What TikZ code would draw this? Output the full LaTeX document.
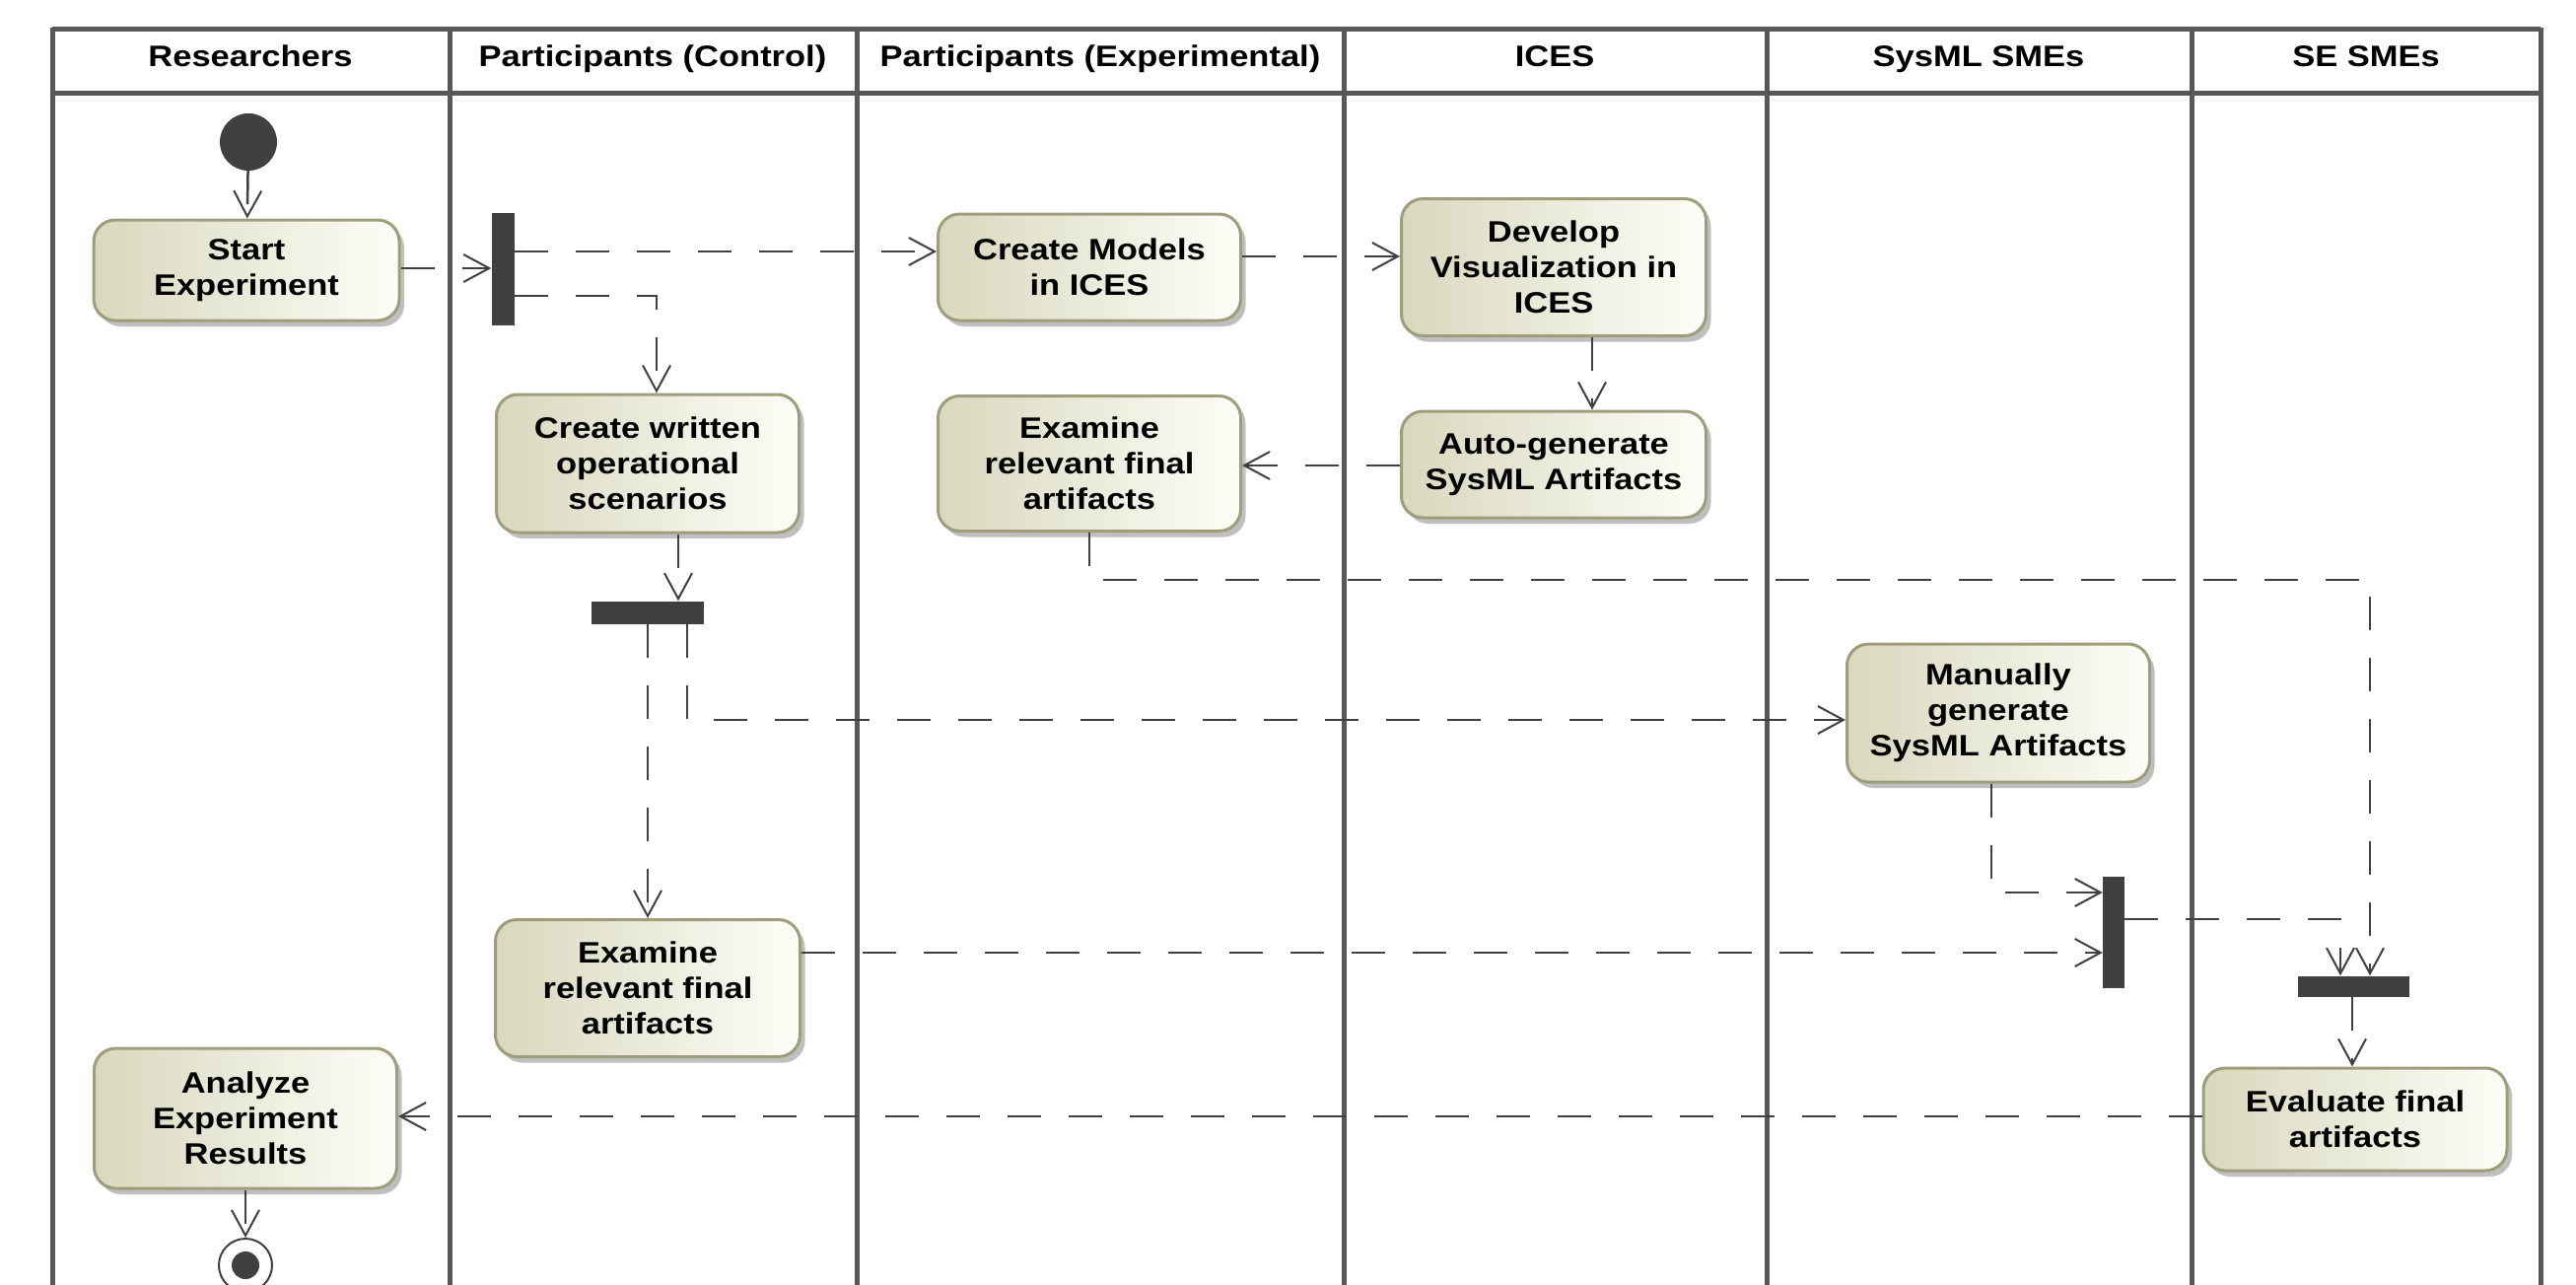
\documentclass[tikz,border=0pt]{standalone}
\usepackage{fontspec}
\setmainfont{Liberation Sans}[FakeStretch=1.15]
\usetikzlibrary{arrows.meta,shadows}
\definecolor{boxL}{RGB}{216,216,190}
\definecolor{boxR}{RGB}{253,253,248}
\definecolor{boxB}{RGB}{158,158,122}
\definecolor{ink}{RGB}{64,64,64}
\definecolor{lanec}{RGB}{88,88,88}
\begin{document}
\begin{tikzpicture}[x=1pt,y=-1pt,
  action/.style={rectangle, rounded corners=22pt, draw=boxB, line width=3pt,
    left color=boxL, right color=boxR, align=center, inner sep=0pt,
    font=\fontsize{30}{36}\selectfont\bfseries,
    drop shadow={shadow xshift=5pt, shadow yshift=-6pt, fill=black!45, opacity=0.55}},
  bar/.style={rectangle, fill=ink, draw=none, inner sep=0pt},
  flow/.style={draw=ink, line width=2.5pt, dash pattern=on 34pt off 28pt,
    -{Straight Barb[length=26pt,width=28pt,line width=2pt]}},
  lanetitle/.style={font=\fontsize{30}{36}\selectfont\bfseries, anchor=base},
  laneline/.style={draw=lanec, line width=5pt},
]
\useasboundingbox (0,0) rectangle (2613,1303);
\clip (0,0) rectangle (2613,1303);
\fill[white] (0,0) rectangle (2613,1303);

% swimlanes
\draw[laneline] (53,30) -- (2577,30);
\draw[laneline] (53,95) -- (2577,95);
\foreach \x in {53,456,869,1363,1792,2223,2577}
  \draw[laneline] (\x,28) -- (\x,1320);

\node[lanetitle] (h1) at (254,68) {Researchers};
\node[lanetitle] (h2) at (662,68) {Participants (Control)};
\node[lanetitle] (h3) at (1116,68) {Participants (Experimental)};
\node[lanetitle] (h4) at (1577,68) {ICES};
\node[lanetitle] (h5) at (2007,68) {SysML SMEs};
\node[lanetitle] (h6) at (2400,68) {SE SMEs};

% initial and final nodes
\node[circle, fill=ink, minimum size=58pt, inner sep=0pt] (init) at (252,144) {};
\node[circle, draw=ink, line width=2pt, fill=white, minimum size=54pt, inner sep=0pt] (fin) at (249,1283) {};
\node[circle, fill=ink, minimum size=28pt, inner sep=0pt] (findot) at (fin.center) {};

% actions
\node[action, minimum width=310pt, minimum height=102pt] (start) at (250,274) {Start\\Experiment};
\node[action, minimum width=307pt, minimum height=140pt] (cw) at (657,470) {Create written\\operational\\scenarios};
\node[action, minimum width=309pt, minimum height=139pt] (exC) at (657,1002) {Examine\\relevant final\\artifacts};
\node[action, minimum width=307pt, minimum height=142pt] (an) at (249,1134) {Analyze\\Experiment\\Results};
\node[action, minimum width=307pt, minimum height=108pt] (cm) at (1105,271) {Create Models\\in ICES};
\node[action, minimum width=307pt, minimum height=137pt] (exE) at (1105,470) {Examine\\relevant final\\artifacts};
\node[action, minimum width=309pt, minimum height=139pt] (dev) at (1576,271) {Develop\\Visualization in\\ICES};
\node[action, minimum width=309pt, minimum height=108pt] (auto) at (1576,471) {Auto-generate\\SysML Artifacts};
\node[action, minimum width=307pt, minimum height=140pt] (man) at (2027,723) {Manually\\generate\\SysML Artifacts};
\node[action, minimum width=308pt, minimum height=104pt] (ev) at (2389,1135) {Evaluate final\\artifacts};

% fork / join bars
\node[bar, minimum width=23pt, minimum height=114pt] (b1) at (510,273) {};
\node[bar, minimum width=114pt, minimum height=23pt] (b2) at (657,621) {};
\node[bar, minimum width=22pt, minimum height=113pt] (b3) at (2144,945) {};
\node[bar, minimum width=113pt, minimum height=21pt] (b4) at (2387,1000) {};

% flows
\draw[flow] (init) -- (start);
\draw[flow] (start.east |- 0,272) -- (b1.west |- 0,272);
\draw[flow] (b1.east |- 0,255) -- (cm.west |- 0,255);
\draw[flow] (b1.east |- 0,300) -| (cw.north -| 666,0);
\draw[flow] (cw.south -| 688,0) -- (b2.north -| 688,0);
\draw[flow] (b2.south) -- (exC.north);
\draw[flow] (b2.south -| 697,0) |- (man.west |- 0,730);
\draw[flow] (cm.east |- 0,260) -- (dev.west |- 0,260);
\draw[flow] (dev.south -| 1615,0) -- (auto.north -| 1615,0);
\draw[flow] (auto.west |- 0,472) -- (exE.east |- 0,472);
\draw[flow] (exE.south) |- (2404,588) -- (b4.north -| 2404,0);
\draw[flow] (man.south -| 2020,0) |- (b3.west |- 0,905);
\draw[flow] (exC.east |- 0,966) -- (b3.west |- 0,966);
\draw[flow] (b3.east |- 0,932) -| (b4.north -| 2374,0);
\draw[flow] (b4.south -| 2386,0) -- (ev.north -| 2386,0);
\draw[flow] (ev.west |- 0,1132) -- (an.east |- 0,1132);
\draw[flow] (an.south) -- (fin.north);
\end{tikzpicture}
\end{document}
